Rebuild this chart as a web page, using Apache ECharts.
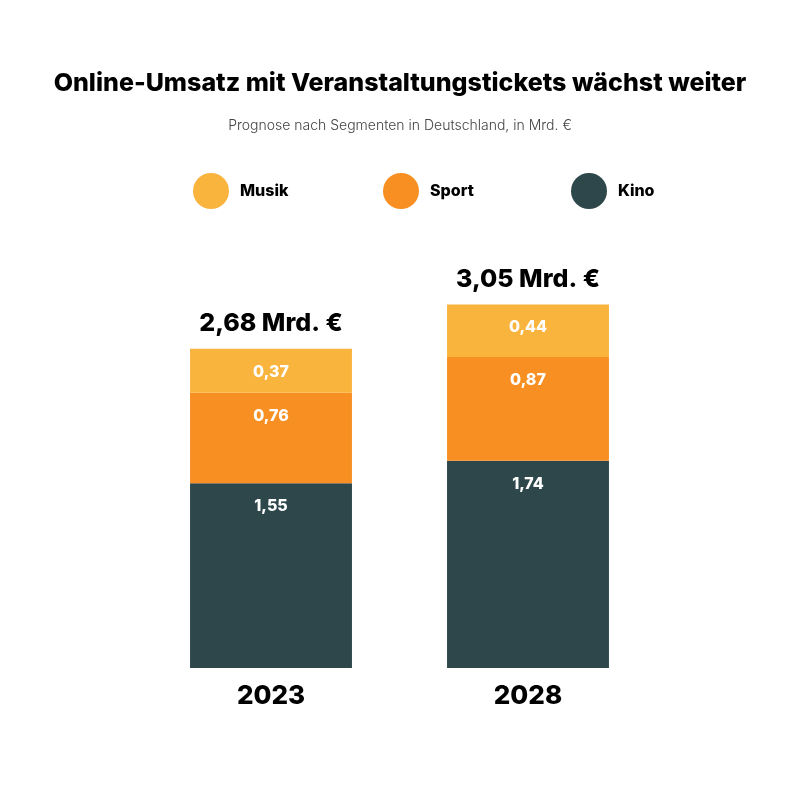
<!DOCTYPE html>
<html>
<head>
<meta charset="utf-8">
<script src="https://cdn.jsdelivr.net/npm/echarts@6/dist/echarts.min.js"></script>
<style>
  html, body { margin: 0; padding: 0; background: #fff; }
  #chart { width: 800px; height: 800px; }
</style>
</head>
<body>
<div id="chart"></div>
<script>
// Daten: Online-Umsatz mit Veranstaltungstickets, in Mrd. €
const years = ['2023', '2028'];
const kino = [1.55, 1.74];
const sport = [0.76, 0.87];
const musik = [0.37, 0.44];
const totals = [2.68, 3.05];

const colors = { musik: '#F9B43E', sport: '#F78F23', kino: '#2D474B' };
const font = 'Inter, "Noto Sans", sans-serif';

// Zahl im deutschen Format
function fmt(v) {
    return v.toFixed(2).replace('.', ',');
}

const chart = echarts.init(document.getElementById('chart'));

const segLabel = {
    show: true,
    position: 'insideTop',
    distance: 15,
    color: '#fff',
    fontFamily: font,
    fontWeight: 800,
    fontSize: 16,
    formatter: p => fmt(p.value)
};

// Legende: drei einzelne Einträge mit gleichem Abstand
function legendItem(name, left) {
    return {
        data: [name],
        left: left,
        top: 168,
        icon: 'circle',
        itemWidth: 36,
        itemHeight: 36,
        selectedMode: false,
        textStyle: {
            fontFamily: font, fontWeight: 800, fontSize: 16, color: '#000',
            padding: [0, 0, 0, 6]
        }
    };
}

const option = {
    backgroundColor: '#fff',
    title: [{
        text: 'Online-Umsatz mit Veranstaltungstickets wächst weiter',
        left: 'center',
        top: 66,
        textStyle: { fontFamily: font, fontWeight: 800, fontSize: 25, color: '#000' }
    }, {
        text: 'Prognose nach Segmenten in Deutschland, in Mrd. €',
        left: 'center',
        top: 114,
        textStyle: { fontFamily: font, fontWeight: 300, fontSize: 14, color: '#444' }
    }],
    legend: [
        legendItem('Musik', 188),
        legendItem('Sport', 378),
        legendItem('Kino', 566)
    ],
    grid: { left: 142.5, right: 143.5, top: 251, bottom: 132 },
    xAxis: {
        type: 'category',
        data: years,
        axisLine: { show: false },
        axisTick: { show: false },
        axisLabel: {
            margin: 15,
            color: '#000',
            fontFamily: font,
            fontWeight: 800,
            fontSize: 26
        }
    },
    yAxis: {
        type: 'value',
        min: 0,
        max: 3.5,
        show: false,
        splitLine: { show: false }
    },
    series: [
        { name: 'Kino', type: 'bar', stack: 'gesamt', barWidth: '63%', data: kino,
          itemStyle: { color: colors.kino }, label: segLabel },
        { name: 'Sport', type: 'bar', stack: 'gesamt', data: sport,
          itemStyle: { color: colors.sport }, label: segLabel },
        { name: 'Musik', type: 'bar', stack: 'gesamt', data: musik,
          itemStyle: { color: colors.musik }, label: segLabel },
        {
            name: 'Gesamt', type: 'scatter', data: totals, symbolSize: 0,
            silent: true,
            itemStyle: { opacity: 1, color: '#000' },
            label: {
                show: true,
                position: 'top',
                distance: 13,
                color: '#000',
                fontFamily: font,
                fontWeight: 800,
                fontSize: 25,
                formatter: p => fmt(p.value) + ' Mrd. €'
            }
        }
    ]
};

chart.setOption(option);
</script>
</body>
</html>
